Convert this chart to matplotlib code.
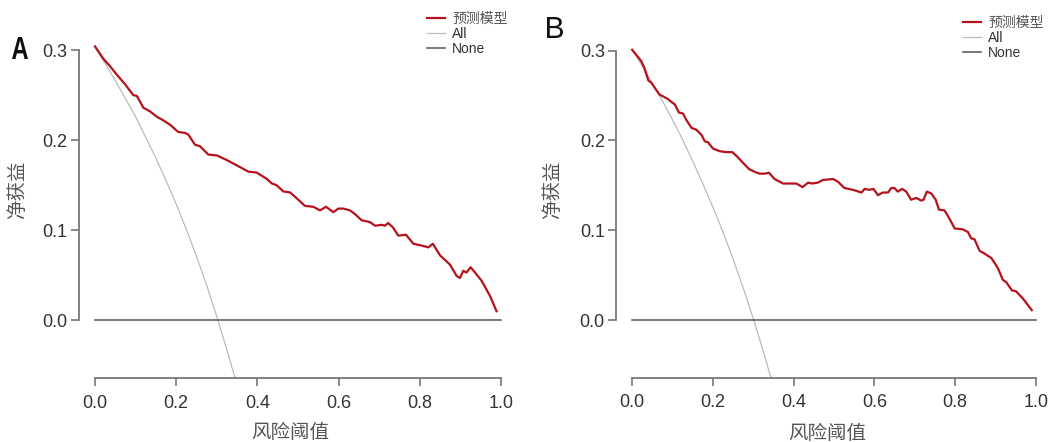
import matplotlib
matplotlib.use("Agg")
import matplotlib.pyplot as plt
from matplotlib.textpath import TextPath
from matplotlib.patches import PathPatch
from matplotlib.font_manager import FontProperties
from matplotlib.transforms import Affine2D, IdentityTransform

plt.rcParams['font.family'] = ['Liberation Sans', 'Noto Sans CJK SC', 'DejaVu Sans']

# --- panel A: prediction model net benefit ---
thr_a = [0.0, 0.021, 0.037, 0.053, 0.074, 0.094, 0.103, 0.119, 0.135, 0.152, 0.168,
         0.185, 0.205, 0.222, 0.230, 0.246, 0.259, 0.279, 0.300, 0.324, 0.349, 0.378,
         0.398, 0.423, 0.435, 0.447, 0.464, 0.480, 0.493, 0.517, 0.538, 0.554, 0.569,
         0.587, 0.599, 0.612, 0.628, 0.640, 0.657, 0.677, 0.690, 0.706, 0.714, 0.722,
         0.734, 0.747, 0.766, 0.784, 0.804, 0.821, 0.832, 0.850, 0.874, 0.891, 0.899,
         0.907, 0.915, 0.925, 0.936, 0.952, 0.973, 0.989]
nb_a = [0.304, 0.290, 0.282, 0.273, 0.262, 0.250, 0.249, 0.236, 0.232, 0.226, 0.222,
        0.217, 0.209, 0.208, 0.206, 0.195, 0.193, 0.184, 0.183, 0.178, 0.172, 0.165,
        0.164, 0.157, 0.152, 0.150, 0.143, 0.142, 0.137, 0.127, 0.126, 0.122, 0.126,
        0.120, 0.124, 0.124, 0.122, 0.118, 0.111, 0.109, 0.105, 0.106, 0.105, 0.108,
        0.103, 0.094, 0.095, 0.085, 0.083, 0.081, 0.085, 0.072, 0.062, 0.049, 0.047,
        0.055, 0.053, 0.059, 0.053, 0.044, 0.027, 0.010]

# --- panel B: prediction model net benefit ---
thr_b = [0.0, 0.011, 0.023, 0.031, 0.040, 0.048, 0.060, 0.068, 0.077, 0.089, 0.097,
         0.106, 0.116, 0.126, 0.134, 0.147, 0.159, 0.172, 0.180, 0.188, 0.200, 0.217,
         0.233, 0.248, 0.258, 0.275, 0.290, 0.304, 0.316, 0.328, 0.339, 0.353, 0.374,
         0.390, 0.407, 0.422, 0.436, 0.446, 0.460, 0.473, 0.498, 0.510, 0.526, 0.547,
         0.568, 0.576, 0.587, 0.598, 0.609, 0.621, 0.634, 0.642, 0.650, 0.658, 0.669,
         0.679, 0.691, 0.704, 0.716, 0.722, 0.730, 0.741, 0.752, 0.760, 0.774, 0.786,
         0.799, 0.819, 0.832, 0.840, 0.848, 0.861, 0.873, 0.890, 0.906, 0.918, 0.927,
         0.941, 0.951, 0.968, 0.990]
nb_b = [0.301, 0.295, 0.288, 0.280, 0.267, 0.264, 0.256, 0.251, 0.249, 0.246, 0.243,
        0.240, 0.231, 0.230, 0.223, 0.214, 0.212, 0.206, 0.199, 0.198, 0.191, 0.188,
        0.187, 0.187, 0.183, 0.175, 0.168, 0.165, 0.163, 0.163, 0.164, 0.157, 0.152,
        0.152, 0.152, 0.148, 0.153, 0.152, 0.153, 0.156, 0.157, 0.154, 0.147, 0.145,
        0.142, 0.146, 0.145, 0.146, 0.139, 0.142, 0.142, 0.147, 0.147, 0.143, 0.146,
        0.143, 0.134, 0.136, 0.133, 0.134, 0.143, 0.141, 0.134, 0.123, 0.122, 0.113,
        0.102, 0.101, 0.098, 0.091, 0.090, 0.077, 0.074, 0.069, 0.058, 0.045, 0.042,
        0.033, 0.032, 0.024, 0.011]

# --- "All" curves (treat everyone) ---
thr_all = [0.0, 0.025, 0.05, 0.075, 0.1, 0.125, 0.15, 0.175, 0.2, 0.225, 0.25,
           0.275, 0.3, 0.325, 0.35, 0.375]
all_a = [0.303, 0.285, 0.266, 0.246, 0.226, 0.203, 0.180, 0.155, 0.129, 0.101,
         0.071, 0.039, 0.004, -0.033, -0.072, -0.115]
all_b = [0.301, 0.283, 0.264, 0.244, 0.223, 0.201, 0.177, 0.152, 0.126, 0.098,
         0.068, 0.036, 0.002, -0.035, -0.074, -0.117]

none_x = [0.0, 1.0]
none_y = [0.0, 0.0]

labels = ['预测模型', 'All', 'None']
xticks = [0.0, 0.2, 0.4, 0.6, 0.8, 1.0]
yticks = [0.0, 0.1, 0.2, 0.3]

red = '#b5121b'
axcol = '#777777'
txt = '#333333'
cjk = ['Noto Sans CJK SC']

fig = plt.figure(figsize=(10.49, 4.42), dpi=100)
ax_a = fig.add_axes([0.0751, 0.1448, 0.418, 0.7706])
ax_b = fig.add_axes([0.5872, 0.1459, 0.4156, 0.768])


def draw(ax, thr, nb, allv, leg_xy, ylab_xy, xlab_xy):
    h1, = ax.plot(thr, nb, color=red, lw=1.6, zorder=3)
    h2, = ax.plot(thr_all, allv, color='#bbbbbb', lw=0.9, zorder=2)
    h3, = ax.plot(none_x, none_y, color='#555555', lw=1.1, zorder=2)
    ax.set_xlim(-0.04, 1.04)
    ax.set_ylim(-0.064, 0.314)
    for s in ['top', 'right']:
        ax.spines[s].set_visible(False)
    ax.spines['left'].set_bounds(0, 0.3)
    ax.spines['bottom'].set_bounds(0, 1.0)
    for s in ['left', 'bottom']:
        ax.spines[s].set_color(axcol)
        ax.spines[s].set_linewidth(1.3)
    ax.set_xticks(xticks)
    ax.set_yticks(yticks)
    ax.set_xticklabels(['%.1f' % v for v in xticks])
    ax.set_yticklabels(['%.1f' % v for v in yticks])
    ax.tick_params(axis='both', colors=axcol, width=1.2, length=6,
                   labelsize=13, labelcolor=txt)
    ax.tick_params(axis='x', pad=6)
    ax.tick_params(axis='y', pad=2)
    ax.text(xlab_xy[0], xlab_xy[1], '风险阈值', transform=ax.transAxes,
            ha='center', va='center', fontsize=14, color='#555555',
            family=cjk, fontweight='light')
    ax.text(ylab_xy[0], ylab_xy[1], '净获益', transform=ax.transAxes,
            ha='center', va='center', rotation=90, fontsize=14,
            color='#555555', family=cjk, fontweight='light')
    leg = fig.legend([h1, h2, h3], labels, loc='upper left',
                     bbox_to_anchor=leg_xy, frameon=False, fontsize=10,
                     handlelength=1.3, handletextpad=0.5, labelspacing=0.08,
                     borderpad=0, borderaxespad=0)
    for t in leg.get_texts():
        t.set_color('#333333')
        t.set_family(['Liberation Sans', 'Noto Sans CJK SC'])
    leg.get_texts()[0].set_color('#555555')


def letter(ch, x_left, baseline, height, width, weight):
    tp = TextPath((0, 0), ch, size=100,
                  prop=FontProperties(family='Liberation Sans', weight=weight))
    ext = tp.get_extents()
    sx = width / ext.width
    sy = height / ext.height
    tr = Affine2D().translate(-ext.x0, -ext.y0).scale(sx, sy) \
        .translate(x_left, 442 - baseline) + IdentityTransform()
    fig.add_artist(PathPatch(tp, transform=tr, color='#111111', lw=0))


draw(ax_a, thr_a, nb_a, all_a, (427 / 1049, 1 - 12 / 442),
     ((18 - 78.8) / 438.4, (378 - 190) / 340.6),
     ((290 - 78.8) / 438.4, (378 - 433) / 340.6))
draw(ax_b, thr_b, nb_b, all_b, (963 / 1049, 1 - 16 / 442),
     ((553 - 616) / 436, (377.5 - 190) / 339.4),
     ((827 - 616) / 436, (377.5 - 433) / 339.4))

letter('A', 12, 59, 22, 16, 'bold')
letter('B', 547, 38, 21, 16, 'normal')

fig.savefig('out.png', dpi=100)
